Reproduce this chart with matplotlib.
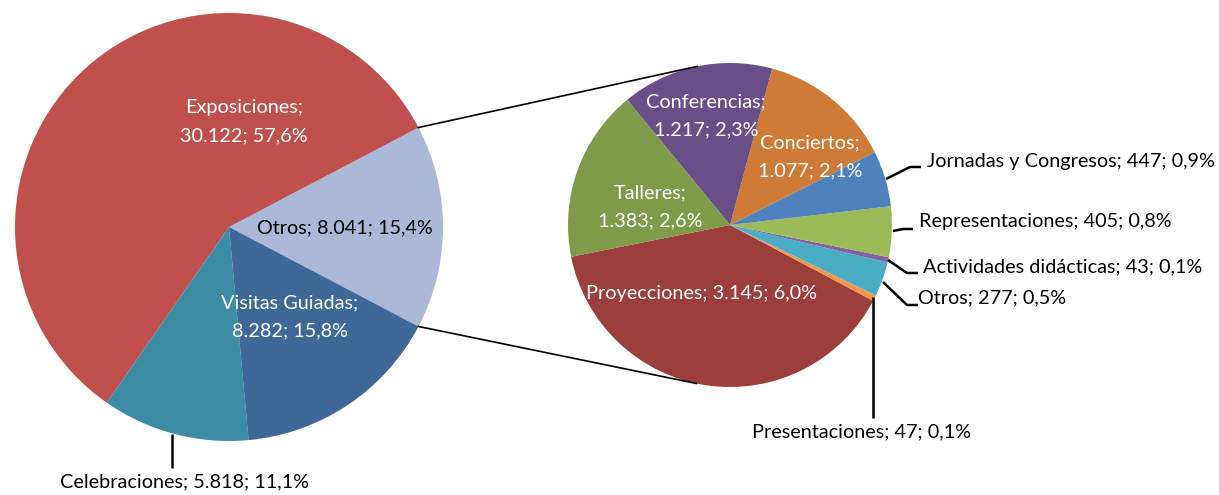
import numpy as np
import matplotlib
matplotlib.use("Agg")
import matplotlib.pyplot as plt

# datos del gráfico principal
main_labels = ["Otros", "Exposiciones", "Celebraciones", "Visitas Guiadas"]
main_values = [8041, 30122, 5818, 8282]
main_colors = ["#AAB9D7", "#C0504D", "#3C8DA3", "#3F6899"]

# desglose de "Otros"
sub_labels = ["Proyecciones", "Presentaciones", "Otros", "Actividades didácticas",
              "Representaciones", "Jornadas y Congresos", "Conciertos",
              "Conferencias", "Talleres"]
sub_values = [3145, 47, 277, 43, 405, 447, 1077, 1217, 1383]
sub_colors = ["#9C3E3C", "#F79646", "#4BACC6", "#8064A2", "#9BBB59",
              "#4F81BD", "#CF7A36", "#684F87", "#7F9A48"]

total = sum(main_values)
W, H = 1219, 495


def fmt(name, v, sep="; "):
    num = f"{v:,}".replace(",", ".")
    pct = f"{100 * v / total:.1f}".replace(".", ",")
    return f"{name};{sep}{num}; {pct}%" if sep == "\n" else f"{name}; {num}; {pct}%"


plt.rcParams['font.family'] = ['Lato', 'DejaVu Sans']
fig = plt.figure(figsize=(W / 100, H / 100), dpi=100)
ax = fig.add_axes([0, 0, 1, 1])

c1, r1 = (229, H - 227), 214
c2, r2 = (730, H - 225), 162

start1 = -0.5 * 360 * main_values[0] / total
ax.pie(main_values, colors=main_colors, startangle=start1, counterclock=True,
       center=c1, radius=r1, wedgeprops=dict(linewidth=0))
start2 = 191.3
ax.pie(sub_values, colors=sub_colors, startangle=start2, counterclock=True,
       center=c2, radius=r2, wedgeprops=dict(linewidth=0))

ax.set_xlim(0, W)
ax.set_ylim(0, H)
ax.set_aspect('equal')
ax.axis('off')

# líneas de unión entre los dos gráficos
for a1, a2 in [(-start1, 101.7), (start1, 258.0)]:
    p1 = (c1[0] + r1 * np.cos(np.radians(a1)), c1[1] + r1 * np.sin(np.radians(a1)))
    p2 = (c2[0] + r2 * np.cos(np.radians(a2)), c2[1] + r2 * np.sin(np.radians(a2)))
    ax.plot([p1[0], p2[0]], [p1[1], p2[1]], color="black", lw=1.2)

fs = 14.3
white = "white"

def txt(x, y, s, color="black", ha="center"):
    ax.text(x, H - y, s, color=color, fontsize=fs, ha=ha, va="center",
            linespacing=1.8)

# etiquetas interiores
txt(244, 122, fmt("Exposiciones", 30122, "\n"), white)
txt(345, 228, fmt("Otros", 8041))
txt(290, 317, fmt("Visitas Guiadas", 8282, "\n"), white)
txt(706, 116, fmt("Conferencias", 1217, "\n"), white)
txt(810, 157, fmt("Conciertos", 1077, "\n"), white)
txt(650, 207, fmt("Talleres", 1383, "\n"), white)
txt(702, 294, fmt("Proyecciones", 3145), white)

# etiquetas exteriores con líneas guía
lw = 1.8
def leader(pts):
    xs = [p[0] for p in pts]
    ys = [H - p[1] for p in pts]
    ax.plot(xs, ys, color="black", lw=lw, solid_capstyle="butt")

leader([(886, 179), (910, 167), (921, 167)])
txt(927, 162, fmt("Jornadas y Congresos", 447), ha="left")
leader([(893, 231), (903, 229), (913, 229)])
txt(919, 222, fmt("Representaciones", 405), ha="left")
leader([(888, 260), (907, 273), (918, 273)])
txt(923, 267, fmt("Actividades didácticas", 43), ha="left")
leader([(883, 282), (907, 305), (918, 305)])
txt(918, 298, fmt("Otros", 277), ha="left")
leader([(873, 297), (873, 418)])
txt(861, 432, fmt("Presentaciones", 47))
leader([(172, 434), (172, 468)])
txt(185, 482, fmt("Celebraciones", 5818))

fig.savefig("out.png", dpi=100)
